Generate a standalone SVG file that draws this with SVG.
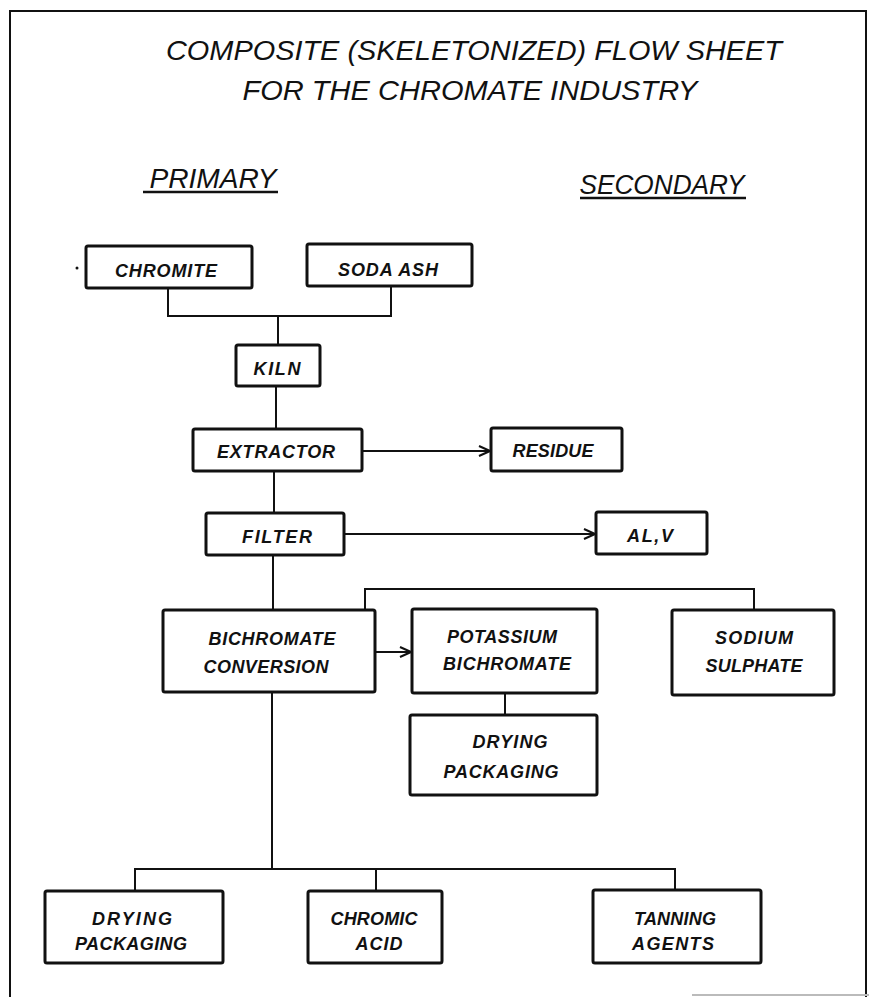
<svg xmlns="http://www.w3.org/2000/svg" width="869" height="997" viewBox="0 0 869 997">
<defs>
<style>
.box{fill:#fff;stroke:#111;stroke-width:3;}
.lbl{font-family:"Liberation Sans",Arial,sans-serif;font-size:18px;font-weight:bold;font-style:italic;fill:#111;text-anchor:middle;}
.ttl{font-family:"Liberation Sans",Arial,sans-serif;font-size:28px;font-style:italic;fill:#111;text-anchor:middle;}
.hdr{font-family:"Liberation Sans",Arial,sans-serif;font-size:27px;font-style:italic;fill:#111;text-anchor:middle;}
.ln{fill:none;stroke:#111;stroke-width:2;}
</style>
<marker id="arr" viewBox="-12 -6 13 12" refX="0" refY="0" markerWidth="13" markerHeight="12" markerUnits="userSpaceOnUse" orient="auto">
<path d="M-11,-5 L0,0 L-11,5" fill="none" stroke="#111" stroke-width="2"/>
</marker>
</defs>
<rect width="869" height="997" fill="#fff"/>
<g id="frame">
<path d="M10,997 V11 H866 V997" fill="none" stroke="#111" stroke-width="2"/>
<line x1="692" y1="995" x2="869" y2="995" stroke="#bbb" stroke-width="2"/>
<circle cx="77" cy="268" r="1.5" fill="#111"/>
</g>
<g id="title">
<text class="ttl" x="474" y="60" textLength="616" lengthAdjust="spacingAndGlyphs">COMPOSITE (SKELETONIZED) FLOW SHEET</text>
<text class="ttl" x="470" y="100" textLength="455" lengthAdjust="spacingAndGlyphs">FOR THE CHROMATE INDUSTRY</text>
</g>
<g id="headers">
<text class="hdr" x="213" y="188" textLength="127" lengthAdjust="spacingAndGlyphs">PRIMARY</text>
<line x1="143" y1="192" x2="278" y2="192" stroke="#111" stroke-width="2.5"/>
<text class="hdr" x="662" y="194" textLength="165" lengthAdjust="spacingAndGlyphs">SECONDARY</text>
<line x1="580" y1="198" x2="746" y2="198" stroke="#111" stroke-width="2.5"/>
</g>
<g id="connectors">
<path class="ln" d="M168,288 V316 H391 V286"/>
<path class="ln" d="M278,316 V345"/>
<path class="ln" d="M276,386 V429"/>
<path class="ln" d="M362,451 H490" marker-end="url(#arr)"/>
<path class="ln" d="M274,471 V513"/>
<path class="ln" d="M344,534 H595" marker-end="url(#arr)"/>
<path class="ln" d="M273,555 V610"/>
<path class="ln" d="M365,610 V589 H754 V610"/>
<path class="ln" d="M375,652 H411" marker-end="url(#arr)"/>
<path class="ln" d="M505,693 V715"/>
<path class="ln" d="M272,692 V869"/>
<path class="ln" d="M135,891 V869 H675 V890"/>
<path class="ln" d="M376,869 V891"/>
</g>
<g id="chromite"><rect class="box" x="86" y="246" width="166" height="42" rx="2"/><text class="lbl" x="166" y="277" textLength="102">CHROMITE</text></g>
<g id="soda-ash"><rect class="box" x="307" y="244" width="165" height="42" rx="2"/><text class="lbl" x="388" y="276" textLength="100">SODA ASH</text></g>
<g id="kiln"><rect class="box" x="236" y="345" width="84" height="41" rx="2"/><text class="lbl" x="277" y="375" textLength="47">KILN</text></g>
<g id="extractor"><rect class="box" x="193" y="429" width="169" height="42" rx="2"/><text class="lbl" x="276" y="458" textLength="118">EXTRACTOR</text></g>
<g id="residue"><rect class="box" x="491" y="428" width="131" height="43" rx="2"/><text class="lbl" x="553" y="457" textLength="81">RESIDUE</text></g>
<g id="filter"><rect class="box" x="206" y="513" width="138" height="42" rx="2"/><text class="lbl" x="277" y="543" textLength="70">FILTER</text></g>
<g id="alv"><rect class="box" x="596" y="512" width="111" height="42" rx="2"/><text class="lbl" x="650" y="542" textLength="46">AL,V</text></g>
<g id="bichromate-conversion"><rect class="box" x="163" y="610" width="212" height="82" rx="2"/><text class="lbl" x="272" y="645" textLength="127">BICHROMATE</text><text class="lbl" x="266" y="673" textLength="125">CONVERSION</text></g>
<g id="potassium-bichromate"><rect class="box" x="412" y="609" width="185" height="84" rx="2"/><text class="lbl" x="502" y="643" textLength="110">POTASSIUM</text><text class="lbl" x="507" y="670" textLength="128">BICHROMATE</text></g>
<g id="sodium-sulphate"><rect class="box" x="672" y="610" width="162" height="85" rx="2"/><text class="lbl" x="754" y="644" textLength="78">SODIUM</text><text class="lbl" x="754" y="672" textLength="97">SULPHATE</text></g>
<g id="drying-packaging-1"><rect class="box" x="410" y="715" width="187" height="80" rx="2"/><text class="lbl" x="510" y="748" textLength="75">DRYING</text><text class="lbl" x="501" y="778" textLength="115">PACKAGING</text></g>
<g id="drying-packaging-2"><rect class="box" x="45" y="891" width="178" height="72" rx="2"/><text class="lbl" x="132" y="925" textLength="80">DRYING</text><text class="lbl" x="131" y="950" textLength="112">PACKAGING</text></g>
<g id="chromic-acid"><rect class="box" x="308" y="891" width="134" height="72" rx="2"/><text class="lbl" x="374" y="925" textLength="87">CHROMIC</text><text class="lbl" x="379" y="950" textLength="47">ACID</text></g>
<g id="tanning-agents"><rect class="box" x="593" y="890" width="168" height="73" rx="2"/><text class="lbl" x="675" y="925" textLength="82">TANNING</text><text class="lbl" x="673" y="950" textLength="82">AGENTS</text></g>
</svg>
